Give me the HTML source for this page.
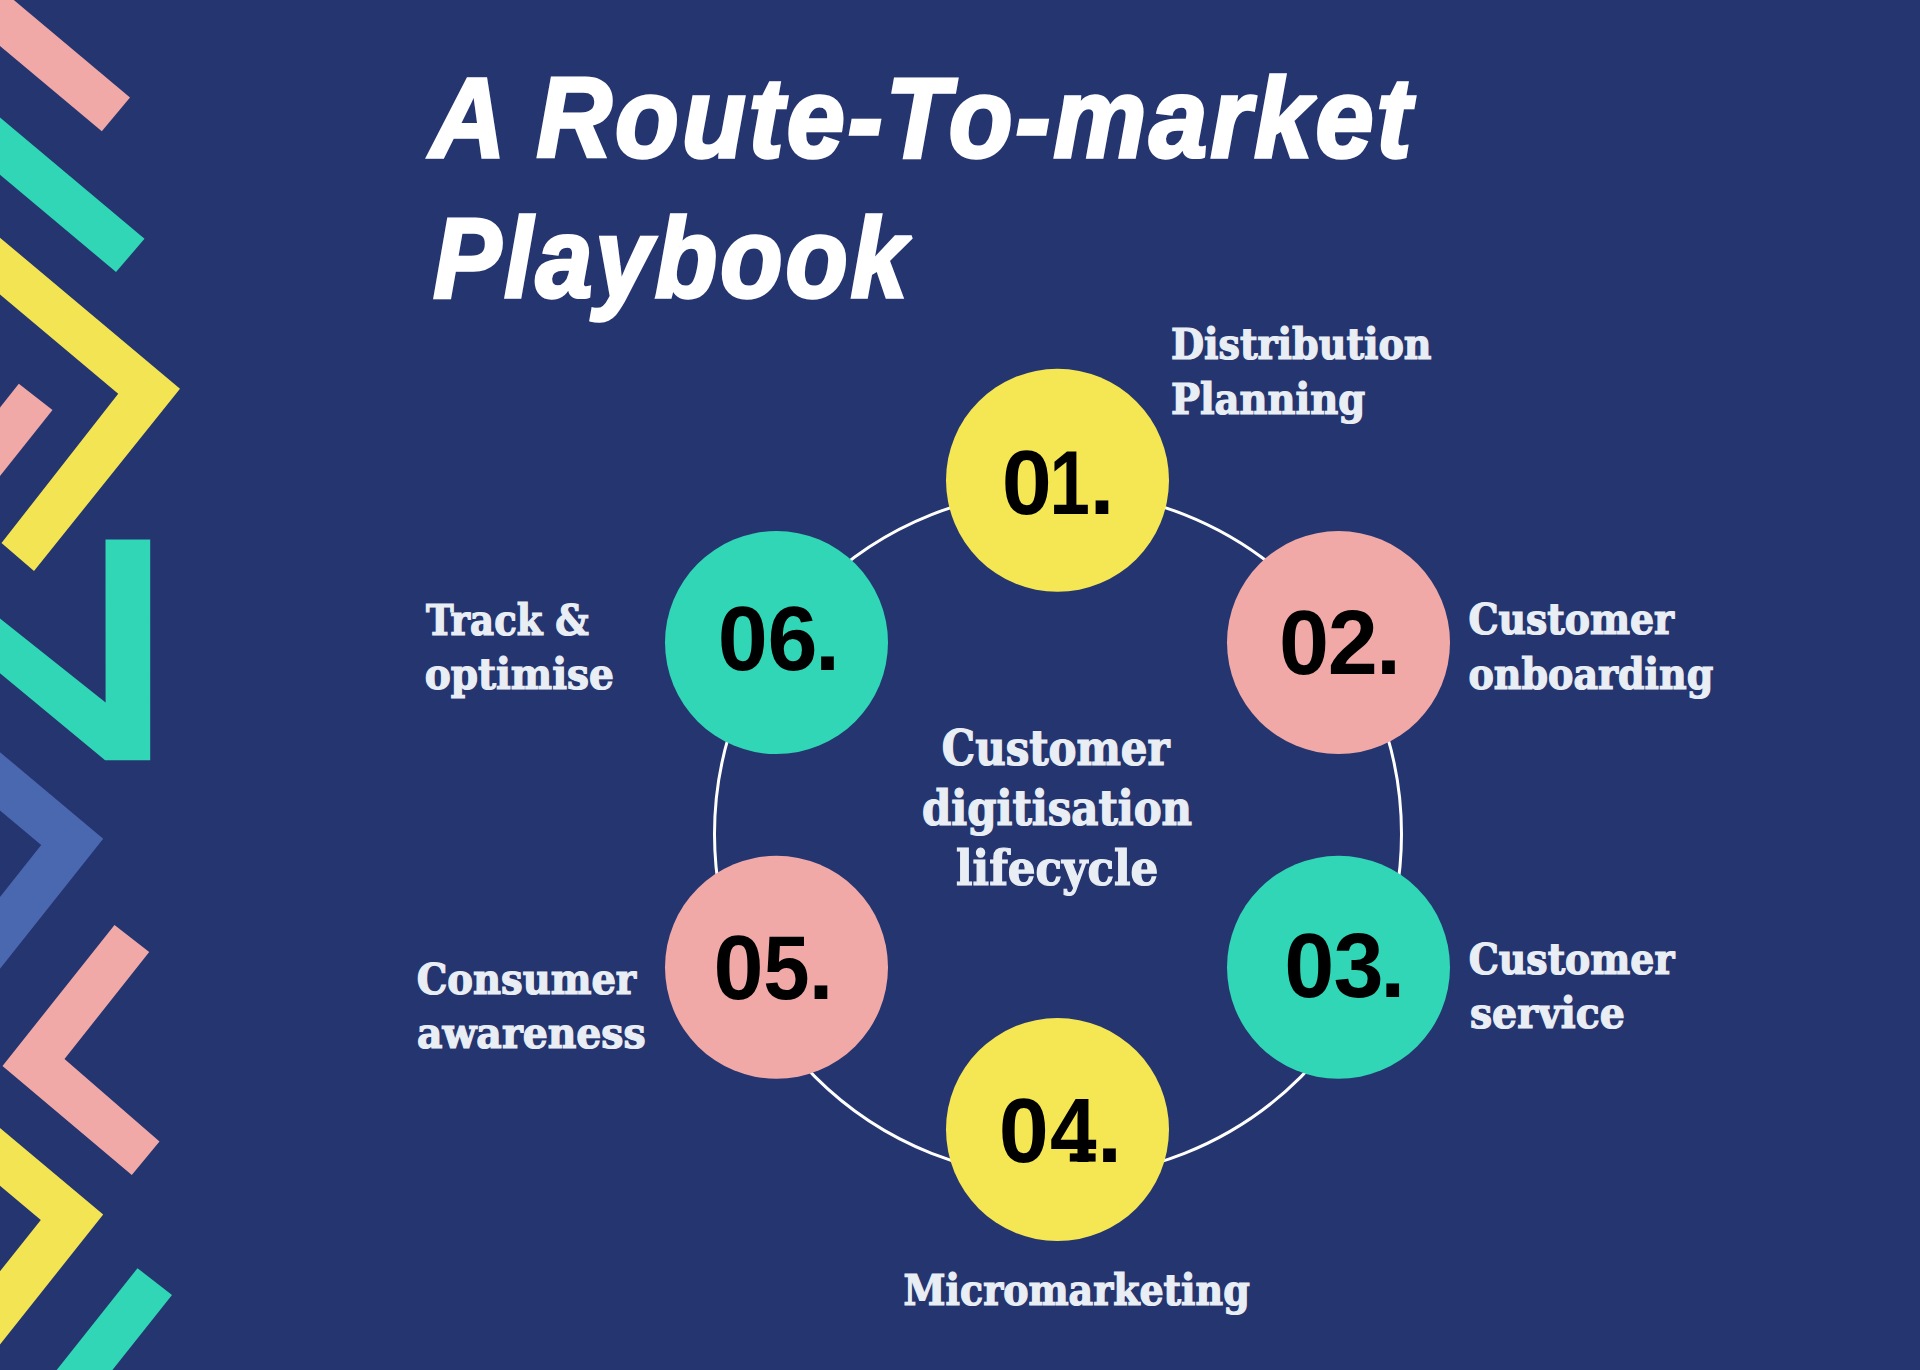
<!DOCTYPE html>
<html lang="en">
<head>
<meta charset="utf-8">
<title>A Route-To-market Playbook</title>
<style>
  html,body{margin:0;padding:0;background:#253570;}
  body{width:1920px;height:1370px;overflow:hidden;position:relative;}
  svg{position:absolute;left:0;top:0;display:block;}
  .title{font-family:"Liberation Sans",Arial,sans-serif;font-weight:700;font-style:italic;fill:#ffffff;stroke:#ffffff;stroke-width:3.4px;vector-effect:non-scaling-stroke;stroke-linejoin:miter;stroke-miterlimit:2;}
  .num{font-family:"Liberation Sans",Arial,sans-serif;font-weight:700;fill:#000000;}
  .lbl{font-family:"DejaVu Serif Condensed","DejaVu Serif","Liberation Serif",serif;font-weight:700;fill:#E9EEF4;stroke:#E9EEF4;stroke-width:1.2px;vector-effect:non-scaling-stroke;stroke-linejoin:miter;}
</style>
</head>
<body>
<svg width="1920" height="1370" viewBox="0 0 1920 1370">
  <rect x="0" y="0" width="1920" height="1370" fill="#253570"/>

  <!-- left decoration -->
  <g id="deco">
<polygon fill="#F0A9A7" points="130.0,97.5 101.8,131.3 -128.0,-61.5 -99.8,-95.3"/>
<polygon fill="#30D6B5" points="144.5,238.8 116.0,272.0 -113.8,79.2 -85.3,45.9"/>
<polygon fill="#F2E453" points="-49.8,195.9 180.0,388.8 34.0,571.0 1.5,543.0 118.2,393.8 -111.6,200.9"/>
<polygon fill="#F0A9A7" points="18.8,383.8 52.5,410.0 -71.9,566.6 -105.7,540.4"/>
<polygon fill="#30D6B5" points="105.5,539.5 150.2,539.5 150.2,760.3 105.1,760.3 -50,631.7 -50,578.5 105.6,702.6"/>
<polygon fill="#4A68AF" points="-126.6,645.9 103.2,838.8 -83.3,1073.7 -145.3,1079.9 41.2,845.0 -188.6,652.2"/>
<polygon fill="#F0A9A7" points="114.5,925.0 149.2,952.0 64.5,1059.0 159.5,1141.5 131.8,1175.0 2.5,1066.0"/>
<polygon fill="#F2E453" points="-126.6,1021.7 103.2,1214.5 -83.3,1449.4 -145.8,1454.9 40.8,1220.0 -189.1,1027.2"/>
<polygon fill="#30D6B5" points="137.5,1268.2 172.0,1295.0 -14.6,1529.9 -49.1,1503.2"/>
  </g>

  <!-- ring -->
  <circle cx="1058" cy="834" r="343.5" fill="none" stroke="#ffffff" stroke-width="3"/>

  <!-- step circles -->
  <g id="circles">
    <circle cx="1057.5" cy="480.3" r="111.5" fill="#F5E653"/>
    <circle cx="1338.5" cy="642.6" r="111.5" fill="#F0A9A7"/>
    <circle cx="1338.5" cy="967.3" r="111.5" fill="#30D6B5"/>
    <circle cx="1057.5" cy="1129.6" r="111.5" fill="#F5E653"/>
    <circle cx="776.5" cy="967.3" r="111.5" fill="#F0A9A7"/>
    <circle cx="776.5" cy="642.6" r="111.5" fill="#30D6B5"/>
  </g>

  <rect id="foot4" x="1069.8" y="1153.4" width="25.8" height="8.2" fill="#000000"/>
  <!-- TEXT-BEGIN -->
  <text class="title" font-size="100" letter-spacing="3" textLength="943.6" lengthAdjust="spacingAndGlyphs" transform="translate(429.89 157.40) scale(1.0434 1.1371)">A Route-To-market</text>
  <text class="title" font-size="100" letter-spacing="3" textLength="468.6" lengthAdjust="spacingAndGlyphs" transform="translate(433.36 297.20) scale(1.0180 1.1371)">Playbook</text>
  <text class="lbl" font-size="100" textLength="615.5" lengthAdjust="spacingAndGlyphs" transform="translate(1171.01 358.90) scale(0.4233 0.4350)">Distribution</text>
  <text class="lbl" font-size="100" textLength="453.5" lengthAdjust="spacingAndGlyphs" transform="translate(1170.99 413.60) scale(0.4281 0.4350)">Planning</text>
  <text class="lbl" font-size="100" textLength="489.1" lengthAdjust="spacingAndGlyphs" transform="translate(1468.42 634.40) scale(0.4204 0.4350)">Customer</text>
  <text class="lbl" font-size="100" textLength="579.5" lengthAdjust="spacingAndGlyphs" transform="translate(1468.51 688.60) scale(0.4223 0.4350)">onboarding</text>
  <text class="lbl" font-size="100" textLength="489.1" lengthAdjust="spacingAndGlyphs" transform="translate(1468.72 974.10) scale(0.4204 0.4350)">Customer</text>
  <text class="lbl" font-size="100" textLength="353.8" lengthAdjust="spacingAndGlyphs" transform="translate(1469.95 1028.40) scale(0.4376 0.4350)">service</text>
  <text class="lbl" font-size="100" textLength="820.6" lengthAdjust="spacingAndGlyphs" transform="translate(903.61 1304.60) scale(0.4217 0.4350)">Micromarketing</text>
  <text class="lbl" font-size="100" textLength="513.0" lengthAdjust="spacingAndGlyphs" transform="translate(416.69 993.80) scale(0.4278 0.4350)">Consumer</text>
  <text class="lbl" font-size="100" textLength="522.6" lengthAdjust="spacingAndGlyphs" transform="translate(416.95 1048.20) scale(0.4377 0.4350)">awareness</text>
  <text class="lbl" font-size="100" textLength="395.1" lengthAdjust="spacingAndGlyphs" transform="translate(425.99 634.70) scale(0.4120 0.4350)">Track &amp;</text>
  <text class="lbl" font-size="100" textLength="435.9" lengthAdjust="spacingAndGlyphs" transform="translate(424.66 688.80) scale(0.4339 0.4350)">optimise</text>
  <text class="lbl" font-size="100" textLength="489.1" lengthAdjust="spacingAndGlyphs" transform="translate(941.84 764.90) scale(0.4656 0.4800)">Customer</text>
  <text class="lbl" font-size="100" textLength="580.0" lengthAdjust="spacingAndGlyphs" transform="translate(922.04 824.90) scale(0.4655 0.4800)">digitisation</text>
  <text class="lbl" font-size="100" textLength="417.5" lengthAdjust="spacingAndGlyphs" transform="translate(956.05 884.70) scale(0.4841 0.4800)">lifecycle</text>
  <text class="num" font-size="90" y="514.2"><tspan x="1001.8">0</tspan><tspan x="1049.6" textLength="40.4" lengthAdjust="spacingAndGlyphs">1</tspan><tspan x="1089.6">.</tspan></text>
  <text class="num" font-size="90" y="673.7"><tspan x="1278.9">0</tspan><tspan x="1327.8">2</tspan><tspan x="1375.9">.</tspan></text>
  <text class="num" font-size="90" y="997.4"><tspan x="1284.2">0</tspan><tspan x="1333.5">3</tspan><tspan x="1380.3">.</tspan></text>
  <text class="num" font-size="90" y="1161.6"><tspan x="998.8">0</tspan><tspan x="1050.0" textLength="46.6" lengthAdjust="spacingAndGlyphs">4</tspan><tspan x="1097.0">.</tspan></text>
  <text class="num" font-size="90" y="999.2"><tspan x="713.5">0</tspan><tspan x="763.3" textLength="46.4" lengthAdjust="spacingAndGlyphs">5</tspan><tspan x="808.5">.</tspan></text>
  <text class="num" font-size="90" y="670.2"><tspan x="717.8">0</tspan><tspan x="767.6">6</tspan><tspan x="815.1">.</tspan></text>
  <!-- TEXT-END -->
</svg>
</body>
</html>
